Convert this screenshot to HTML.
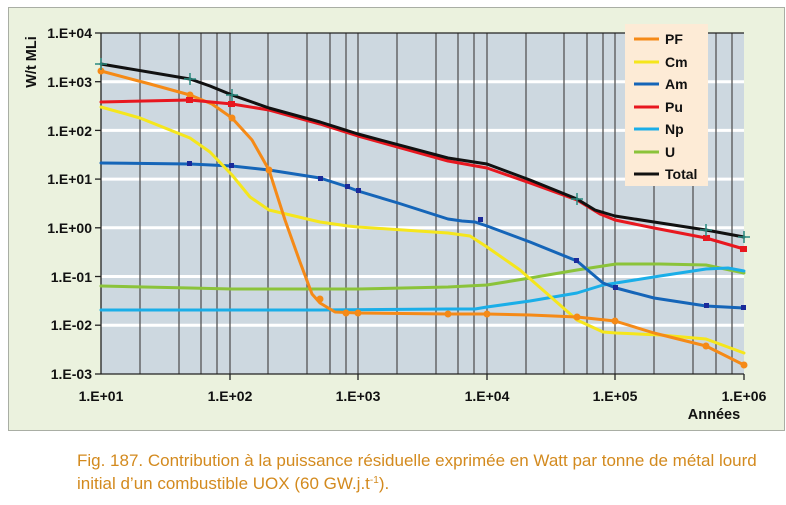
<!DOCTYPE html>
<html><head><meta charset="utf-8"><style>
html,body{margin:0;padding:0;background:#fff;}
body{width:786px;height:500px;overflow:hidden;font-family:"Liberation Sans",sans-serif;}
</style></head><body>
<svg width="786" height="500" viewBox="0 0 786 500" xmlns="http://www.w3.org/2000/svg" font-family="Liberation Sans, sans-serif">
<rect x="8.5" y="7.5" width="776" height="423" fill="#ebf2de" stroke="#a9aea4" stroke-width="1"/>
<rect x="101" y="33" width="643" height="341" fill="#cdd8e0"/>
<g stroke="#fff" stroke-width="3">
<line x1="101" x2="744" y1="81.7" y2="81.7"/><line x1="101" x2="744" y1="130.4" y2="130.4"/>
<line x1="101" x2="744" y1="179.1" y2="179.1"/><line x1="101" x2="744" y1="227.8" y2="227.8"/>
<line x1="101" x2="744" y1="276.5" y2="276.5"/><line x1="101" x2="744" y1="325.2" y2="325.2"/>
</g>
<g stroke="#555" stroke-width="1.3">
<line x1="140" x2="140" y1="33" y2="374"/><line x1="179" x2="179" y1="33" y2="374"/><line x1="201" x2="201" y1="33" y2="374"/><line x1="217" x2="217" y1="33" y2="374"/><line x1="230" x2="230" y1="33" y2="374"/>
<line x1="268" x2="268" y1="33" y2="374"/><line x1="307" x2="307" y1="33" y2="374"/><line x1="330" x2="330" y1="33" y2="374"/><line x1="346" x2="346" y1="33" y2="374"/><line x1="358" x2="358" y1="33" y2="374"/>
<line x1="397" x2="397" y1="33" y2="374"/><line x1="436" x2="436" y1="33" y2="374"/><line x1="458" x2="458" y1="33" y2="374"/><line x1="474" x2="474" y1="33" y2="374"/><line x1="487" x2="487" y1="33" y2="374"/>
<line x1="526" x2="526" y1="33" y2="374"/><line x1="564" x2="564" y1="33" y2="374"/><line x1="587" x2="587" y1="33" y2="374"/><line x1="603" x2="603" y1="33" y2="374"/><line x1="615" x2="615" y1="33" y2="374"/>
<line x1="654" x2="654" y1="33" y2="374"/><line x1="693" x2="693" y1="33" y2="374"/><line x1="716" x2="716" y1="33" y2="374"/><line x1="732" x2="732" y1="33" y2="374"/>
</g>
<g stroke="#222" stroke-width="1.3">
<line x1="101" x2="101" y1="33" y2="374"/><line x1="101" x2="744" y1="374" y2="374"/><line x1="101" x2="744" y1="33" y2="33"/>
<line x1="95" x2="101" y1="33" y2="33"/><line x1="95" x2="101" y1="81.7" y2="81.7"/><line x1="95" x2="101" y1="130.4" y2="130.4"/><line x1="95" x2="101" y1="179.1" y2="179.1"/><line x1="95" x2="101" y1="227.8" y2="227.8"/><line x1="95" x2="101" y1="276.5" y2="276.5"/><line x1="95" x2="101" y1="325.2" y2="325.2"/><line x1="95" x2="101" y1="374" y2="374"/>
<line x1="230" x2="230" y1="374" y2="380"/><line x1="358" x2="358" y1="374" y2="380"/><line x1="487" x2="487" y1="374" y2="380"/><line x1="615" x2="615" y1="374" y2="380"/><line x1="744" x2="744" y1="374" y2="380"/>
</g>
<g fill="none" stroke-width="3" stroke-linejoin="round" stroke-linecap="round">
<polyline stroke="#8bc33a" points="101,286 190,288 232,289 320,289 358,289 448,287 487,285 530,278 577,270 616,264 660,264 706,265 744,273"/>
<polyline stroke="#1aaee8" points="101,310 320,310 448,309 475,309 487,307 530,301 577,293 603,285 616,283 660,276 706,269 728,268 744,271"/>
<polyline stroke="#1565b8" points="101,163 190,164 232,166 269,170 320,178 345,186 358,191 398,203 448,219 462,221 475,222 487,226 530,242 577,261 590,272 603,283 616,288 654,298 706,306 725,307 744,308"/>
<polyline stroke="#f5e61c" points="101,107 140,118 190,138 210,152 232,175 250,197 269,210 320,222 348,226 358,227 448,233 470,236 487,247 520,270 560,305 577,320 603,332 616,333 660,335 706,339 744,353"/>
<polyline stroke="#f58a17" points="101,71 150,84 190,95 212,104 232,118 252,140 269,170 285,220 300,262 312,294 320,303 335,312 358,313 448,314 487,314 530,315 577,317 615,321 654,333 706,346 744,365"/>
<polyline stroke="#e8171f" points="101,102 190,100 232,104 269,110 320,124 358,136 448,161 487,168 530,183 577,200 600,214 615,220 654,228 706,238 744,249"/>
<polyline stroke="#111" points="101,64 190,79 210,86 232,95 269,108 320,122 358,134 448,158 487,164 530,180 577,199 595,210 615,216 654,222 706,230 744,237"/>
</g>
<g fill="#f58a17"><circle cx="101" cy="71" r="3.5"/><circle cx="190" cy="95" r="3.5"/><circle cx="232" cy="118" r="3.5"/><circle cx="269" cy="170" r="3.5"/><circle cx="320" cy="299" r="3.5"/><circle cx="346" cy="313" r="3.5"/><circle cx="358" cy="313" r="3.5"/><circle cx="448" cy="314" r="3.5"/><circle cx="487" cy="314" r="3.5"/><circle cx="577" cy="317" r="3.5"/><circle cx="615" cy="321" r="3.5"/><circle cx="706" cy="346" r="3.5"/><circle cx="744" cy="365" r="3.5"/></g>
<g fill="#e8171f"><rect x="186" y="97" width="7" height="6"/><rect x="228" y="101" width="7" height="6"/><rect x="740" y="246" width="7" height="6"/><rect x="703" y="235" width="7" height="6"/></g>
<g fill="#1a2a9a"><rect x="187" y="161" width="5" height="5"/><rect x="229" y="163" width="5" height="5"/><rect x="318" y="176" width="5" height="5"/><rect x="345" y="184" width="5" height="5"/><rect x="356" y="188" width="5" height="5"/><rect x="478" y="217" width="5" height="5"/><rect x="574" y="258" width="5" height="5"/><rect x="613" y="285" width="5" height="5"/><rect x="704" y="303" width="5" height="5"/><rect x="741" y="305" width="5" height="5"/></g>
<g stroke="#2a8a80" stroke-width="1.5"><path d="M101 58v12M95 64h12M190 73v12M184 79h12M232 89v12M226 95h12M577 193v12M571 199h12M744 231v12M738 237h12M706 224v12M700 230h12"/></g>
<g font-size="14" font-weight="bold" fill="#111" text-anchor="end">
<text x="92" y="38">1.E+04</text><text x="92" y="87">1.E+03</text><text x="92" y="136">1.E+02</text><text x="92" y="184">1.E+01</text><text x="92" y="233">1.E+00</text><text x="92" y="282">1.E-01</text><text x="92" y="330">1.E-02</text><text x="92" y="379">1.E-03</text>
</g>
<g font-size="14" font-weight="bold" fill="#111" text-anchor="middle">
<text x="101" y="401">1.E+01</text><text x="230" y="401">1.E+02</text><text x="358" y="401">1.E+03</text><text x="487" y="401">1.E+04</text><text x="615" y="401">1.E+05</text><text x="744" y="401">1.E+06</text>
<text x="714" y="419" font-size="14.5">Années</text>
</g>
<text transform="translate(36,62) rotate(-90)" font-size="14.5" font-weight="bold" fill="#111" text-anchor="middle">W/t MLi</text>
<rect x="625" y="24" width="83" height="162" fill="#fdebd6"/>
<g stroke-width="3">
<line x1="634" x2="659" y1="39" y2="39" stroke="#f58a17"/><line x1="634" x2="659" y1="62" y2="62" stroke="#f5e61c"/><line x1="634" x2="659" y1="84" y2="84" stroke="#1565b8"/><line x1="634" x2="659" y1="107" y2="107" stroke="#e8171f"/><line x1="634" x2="659" y1="129" y2="129" stroke="#1aaee8"/><line x1="634" x2="659" y1="152" y2="152" stroke="#8bc33a"/><line x1="634" x2="659" y1="174" y2="174" stroke="#111"/>
</g>
<g font-size="14" font-weight="bold" fill="#111">
<text x="665" y="44">PF</text><text x="665" y="67">Cm</text><text x="665" y="89">Am</text><text x="665" y="112">Pu</text><text x="665" y="134">Np</text><text x="665" y="157">U</text><text x="665" y="179">Total</text>
</g>
<g font-size="17" fill="#d38a1e">
<text x="77" y="466">Fig. 187. Contribution à la puissance résiduelle exprimée en Watt par tonne de métal lourd</text>
<text x="77" y="489">initial d’un combustible UOX (60 GW.j.t<tspan font-size="10" dy="-6">-1</tspan><tspan dy="6">).</tspan></text>
</g>
</svg>
</body></html>
